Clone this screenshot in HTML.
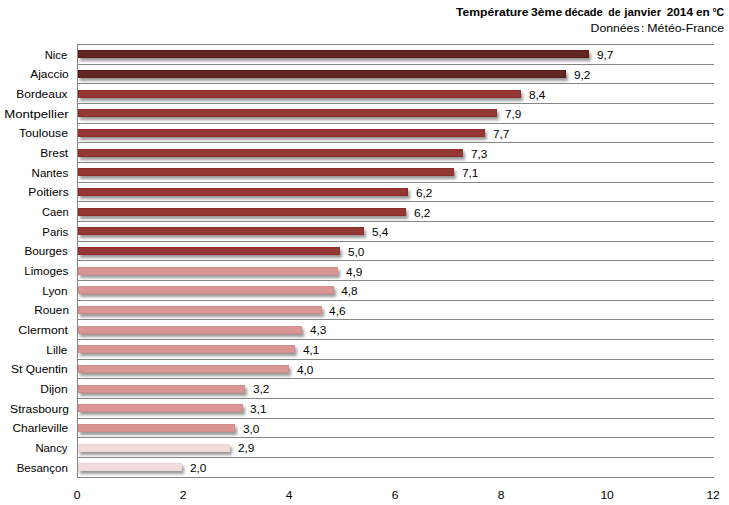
<!DOCTYPE html>
<html><head><meta charset="utf-8"><style>
html,body{margin:0;padding:0;background:#fff;}
body{width:729px;height:505px;overflow:hidden;}
svg{display:block;font-family:"Liberation Sans",sans-serif;}
text{fill:#000;}
</style></head><body>
<svg width="729" height="505" viewBox="0 0 729 505">
<defs>
<filter id="sh" x="-5%" y="-60%" width="120%" height="220%">
<feGaussianBlur in="SourceAlpha" stdDeviation="1.5"/>
<feOffset dx="2" dy="3" result="b"/>
<feComponentTransfer><feFuncA type="linear" slope="0.4"/></feComponentTransfer>
<feMerge><feMergeNode/><feMergeNode in="SourceGraphic"/></feMerge>
</filter>
</defs>
<rect width="729" height="505" fill="#fff"/>
<rect x="77" y="44" width="637" height="1" fill="#868686"/>
<rect x="77" y="64" width="637" height="1" fill="#868686"/>
<rect x="77" y="83" width="637" height="1" fill="#868686"/>
<rect x="77" y="103" width="637" height="1" fill="#868686"/>
<rect x="77" y="123" width="637" height="1" fill="#868686"/>
<rect x="77" y="142" width="637" height="1" fill="#868686"/>
<rect x="77" y="162" width="637" height="1" fill="#868686"/>
<rect x="77" y="182" width="637" height="1" fill="#868686"/>
<rect x="77" y="201" width="637" height="1" fill="#868686"/>
<rect x="77" y="221" width="637" height="1" fill="#868686"/>
<rect x="77" y="241" width="637" height="1" fill="#868686"/>
<rect x="77" y="260" width="637" height="1" fill="#868686"/>
<rect x="77" y="280" width="637" height="1" fill="#868686"/>
<rect x="77" y="300" width="637" height="1" fill="#868686"/>
<rect x="77" y="319" width="637" height="1" fill="#868686"/>
<rect x="77" y="339" width="637" height="1" fill="#868686"/>
<rect x="77" y="359" width="637" height="1" fill="#868686"/>
<rect x="77" y="378" width="637" height="1" fill="#868686"/>
<rect x="77" y="398" width="637" height="1" fill="#868686"/>
<rect x="77" y="418" width="637" height="1" fill="#868686"/>
<rect x="77" y="437" width="637" height="1" fill="#868686"/>
<rect x="77" y="457" width="637" height="1" fill="#868686"/>
<rect x="77" y="477" width="637" height="1" fill="#868686"/>
<rect x="78" y="50" width="511" height="8" fill="#632523" filter="url(#sh)"/>
<rect x="78.5" y="50.5" width="510" height="7" fill="none" stroke="#5c1a19" stroke-width="1"/>
<rect x="78" y="70" width="488" height="8" fill="#632523" filter="url(#sh)"/>
<rect x="78.5" y="70.5" width="487" height="7" fill="none" stroke="#5c1a19" stroke-width="1"/>
<rect x="78" y="90" width="443" height="8" fill="#953735" filter="url(#sh)"/>
<rect x="78.5" y="90.5" width="442" height="7" fill="none" stroke="#8e2b29" stroke-width="1"/>
<rect x="78" y="109" width="419" height="8" fill="#953735" filter="url(#sh)"/>
<rect x="78.5" y="109.5" width="418" height="7" fill="none" stroke="#8e2b29" stroke-width="1"/>
<rect x="78" y="129" width="407" height="8" fill="#953735" filter="url(#sh)"/>
<rect x="78.5" y="129.5" width="406" height="7" fill="none" stroke="#8e2b29" stroke-width="1"/>
<rect x="78" y="149" width="385" height="8" fill="#953735" filter="url(#sh)"/>
<rect x="78.5" y="149.5" width="384" height="7" fill="none" stroke="#8e2b29" stroke-width="1"/>
<rect x="78" y="168" width="376" height="8" fill="#953735" filter="url(#sh)"/>
<rect x="78.5" y="168.5" width="375" height="7" fill="none" stroke="#8e2b29" stroke-width="1"/>
<rect x="78" y="188" width="330" height="8" fill="#953735" filter="url(#sh)"/>
<rect x="78.5" y="188.5" width="329" height="7" fill="none" stroke="#8e2b29" stroke-width="1"/>
<rect x="78" y="208" width="328" height="8" fill="#953735" filter="url(#sh)"/>
<rect x="78.5" y="208.5" width="327" height="7" fill="none" stroke="#8e2b29" stroke-width="1"/>
<rect x="78" y="227" width="286" height="8" fill="#953735" filter="url(#sh)"/>
<rect x="78.5" y="227.5" width="285" height="7" fill="none" stroke="#8e2b29" stroke-width="1"/>
<rect x="78" y="247" width="262" height="8" fill="#953735" filter="url(#sh)"/>
<rect x="78.5" y="247.5" width="261" height="7" fill="none" stroke="#8e2b29" stroke-width="1"/>
<rect x="78" y="267" width="260" height="8" fill="#D99694" filter="url(#sh)"/>
<rect x="78.5" y="267.5" width="259" height="7" fill="none" stroke="#d48b89" stroke-width="1"/>
<rect x="78" y="286" width="256" height="8" fill="#D99694" filter="url(#sh)"/>
<rect x="78.5" y="286.5" width="255" height="7" fill="none" stroke="#d48b89" stroke-width="1"/>
<rect x="78" y="306" width="244" height="8" fill="#D99694" filter="url(#sh)"/>
<rect x="78.5" y="306.5" width="243" height="7" fill="none" stroke="#d48b89" stroke-width="1"/>
<rect x="78" y="326" width="224" height="8" fill="#D99694" filter="url(#sh)"/>
<rect x="78.5" y="326.5" width="223" height="7" fill="none" stroke="#d48b89" stroke-width="1"/>
<rect x="78" y="345" width="217" height="8" fill="#D99694" filter="url(#sh)"/>
<rect x="78.5" y="345.5" width="216" height="7" fill="none" stroke="#d48b89" stroke-width="1"/>
<rect x="78" y="365" width="211" height="8" fill="#D99694" filter="url(#sh)"/>
<rect x="78.5" y="365.5" width="210" height="7" fill="none" stroke="#d48b89" stroke-width="1"/>
<rect x="78" y="385" width="167" height="8" fill="#D99694" filter="url(#sh)"/>
<rect x="78.5" y="385.5" width="166" height="7" fill="none" stroke="#d48b89" stroke-width="1"/>
<rect x="78" y="404" width="165" height="8" fill="#D99694" filter="url(#sh)"/>
<rect x="78.5" y="404.5" width="164" height="7" fill="none" stroke="#d48b89" stroke-width="1"/>
<rect x="78" y="424" width="157" height="8" fill="#D99694" filter="url(#sh)"/>
<rect x="78.5" y="424.5" width="156" height="7" fill="none" stroke="#d48b89" stroke-width="1"/>
<rect x="78" y="444" width="152" height="8" fill="#F2DCDB" filter="url(#sh)"/>
<rect x="78.5" y="444.5" width="151" height="7" fill="none" stroke="#efd6d5" stroke-width="1"/>
<rect x="78" y="463" width="104" height="8" fill="#F2DCDB" filter="url(#sh)"/>
<rect x="78.5" y="463.5" width="103" height="7" fill="none" stroke="#efd6d5" stroke-width="1"/>
<rect x="77" y="44" width="1" height="434" fill="#868686"/>
<text transform="translate(67.20,59) scale(0.9769,1)" text-anchor="end" font-weight="normal" font-size="11.5">Nice</text>
<text transform="translate(597.0,59) scale(1.03,1)" font-size="11.5">9,7</text>
<text transform="translate(68.70,78) scale(1.0378,1)" text-anchor="end" font-weight="normal" font-size="11.5">Ajaccio</text>
<text transform="translate(574.0,79) scale(1.03,1)" font-size="11.5">9,2</text>
<text transform="translate(67.50,98) scale(1.0398,1)" text-anchor="end" font-weight="normal" font-size="11.5">Bordeaux</text>
<text transform="translate(529.0,99) scale(1.03,1)" font-size="11.5">8,4</text>
<text transform="translate(68.61,118) scale(1.1464,1)" text-anchor="end" font-weight="normal" font-size="11.5">Montpellier</text>
<text transform="translate(505.0,118) scale(1.03,1)" font-size="11.5">7,9</text>
<text transform="translate(67.94,137) scale(1.0619,1)" text-anchor="end" font-weight="normal" font-size="11.5">Toulouse</text>
<text transform="translate(493.0,138) scale(1.03,1)" font-size="11.5">7,7</text>
<text transform="translate(68.20,157) scale(1.0388,1)" text-anchor="end" font-weight="normal" font-size="11.5">Brest</text>
<text transform="translate(471.0,158) scale(1.03,1)" font-size="11.5">7,3</text>
<text transform="translate(68.20,177) scale(1.0055,1)" text-anchor="end" font-weight="normal" font-size="11.5">Nantes</text>
<text transform="translate(462.0,177) scale(1.03,1)" font-size="11.5">7,1</text>
<text transform="translate(68.69,196) scale(1.0530,1)" text-anchor="end" font-weight="normal" font-size="11.5">Poitiers</text>
<text transform="translate(416.0,197) scale(1.03,1)" font-size="11.5">6,2</text>
<text transform="translate(68.69,216) scale(0.9698,1)" text-anchor="end" font-weight="normal" font-size="11.5">Caen</text>
<text transform="translate(414.0,217) scale(1.03,1)" font-size="11.5">6,2</text>
<text transform="translate(68.20,236) scale(0.9882,1)" text-anchor="end" font-weight="normal" font-size="11.5">Paris</text>
<text transform="translate(372.0,236) scale(1.03,1)" font-size="11.5">5,4</text>
<text transform="translate(67.90,255) scale(1.0145,1)" text-anchor="end" font-weight="normal" font-size="11.5">Bourges</text>
<text transform="translate(348.0,256) scale(1.03,1)" font-size="11.5">5,0</text>
<text transform="translate(68.20,275) scale(1.0093,1)" text-anchor="end" font-weight="normal" font-size="11.5">Limoges</text>
<text transform="translate(346.0,276) scale(1.03,1)" font-size="11.5">4,9</text>
<text transform="translate(67.56,295) scale(1.0312,1)" text-anchor="end" font-weight="normal" font-size="11.5">Lyon</text>
<text transform="translate(341.2,295) scale(1.03,1)" font-size="11.5">4,8</text>
<text transform="translate(68.93,314) scale(1.0251,1)" text-anchor="end" font-weight="normal" font-size="11.5">Rouen</text>
<text transform="translate(329.1,315) scale(1.03,1)" font-size="11.5">4,6</text>
<text transform="translate(67.90,334) scale(1.0631,1)" text-anchor="end" font-weight="normal" font-size="11.5">Clermont</text>
<text transform="translate(310.0,334) scale(1.03,1)" font-size="11.5">4,3</text>
<text transform="translate(67.40,354) scale(1.0299,1)" text-anchor="end" font-weight="normal" font-size="11.5">Lille</text>
<text transform="translate(303.0,354) scale(1.03,1)" font-size="11.5">4,1</text>
<text transform="translate(67.55,373) scale(1.0399,1)" text-anchor="end" font-weight="normal" font-size="11.5">St Quentin</text>
<text transform="translate(297.0,374) scale(1.03,1)" font-size="11.5">4,0</text>
<text transform="translate(67.58,393) scale(1.0406,1)" text-anchor="end" font-weight="normal" font-size="11.5">Dijon</text>
<text transform="translate(253.0,393) scale(1.03,1)" font-size="11.5">3,2</text>
<text transform="translate(68.89,413) scale(1.0463,1)" text-anchor="end" font-weight="normal" font-size="11.5">Strasbourg</text>
<text transform="translate(250.1,413) scale(1.03,1)" font-size="11.5">3,1</text>
<text transform="translate(68.20,432) scale(1.0387,1)" text-anchor="end" font-weight="normal" font-size="11.5">Charleville</text>
<text transform="translate(243.0,433) scale(1.03,1)" font-size="11.5">3,0</text>
<text transform="translate(67.50,452) scale(0.9859,1)" text-anchor="end" font-weight="normal" font-size="11.5">Nancy</text>
<text transform="translate(238.0,452) scale(1.03,1)" font-size="11.5">2,9</text>
<text transform="translate(67.81,472) scale(1.0008,1)" text-anchor="end" font-weight="normal" font-size="11.5">Besançon</text>
<text transform="translate(190.0,472) scale(1.03,1)" font-size="11.5">2,0</text>
<text transform="translate(77.1,499) scale(1.05,1)" text-anchor="middle" font-size="11.5">0</text>
<text transform="translate(183.1,499) scale(1.05,1)" text-anchor="middle" font-size="11.5">2</text>
<text transform="translate(289.1,499) scale(1.05,1)" text-anchor="middle" font-size="11.5">4</text>
<text transform="translate(395.1,499) scale(1.05,1)" text-anchor="middle" font-size="11.5">6</text>
<text transform="translate(501.1,499) scale(1.05,1)" text-anchor="middle" font-size="11.5">8</text>
<text transform="translate(607.1,499) scale(1.05,1)" text-anchor="middle" font-size="11.5">10</text>
<text transform="translate(713.1,499) scale(1.05,1)" text-anchor="middle" font-size="11.5">12</text>
<text transform="translate(455.88,16) scale(1.0573,1)" font-size="11.5" font-weight="bold">Température</text>
<text transform="translate(531.04,16) scale(1.0610,1)" font-size="11.5" font-weight="bold">3ème</text>
<text transform="translate(564.64,16) scale(0.9627,1)" font-size="11.5" font-weight="bold">décade</text>
<text transform="translate(608.33,16) scale(0.9083,1)" font-size="11.5" font-weight="bold">de</text>
<text transform="translate(624.29,16) scale(0.9947,1)" font-size="11.5" font-weight="bold">janvier</text>
<text transform="translate(666.67,16) scale(1.0287,1)" font-size="11.5" font-weight="bold">2014</text>
<text transform="translate(695.95,16) scale(1.0302,1)" font-size="11.5" font-weight="bold">en</text>
<text transform="translate(712.40,16) scale(0.9163,1)" font-size="11.5" font-weight="bold">°C</text>
<text transform="translate(590.62,32) scale(1.0634,1)" font-size="11.5" font-weight="normal">Données</text>
<text transform="translate(641.10,32) scale(1.0000,1)" font-size="11.5" font-weight="normal">:</text>
<text transform="translate(647.37,32) scale(1.0715,1)" font-size="11.5" font-weight="normal">Météo-France</text>
</svg>
</body></html>
